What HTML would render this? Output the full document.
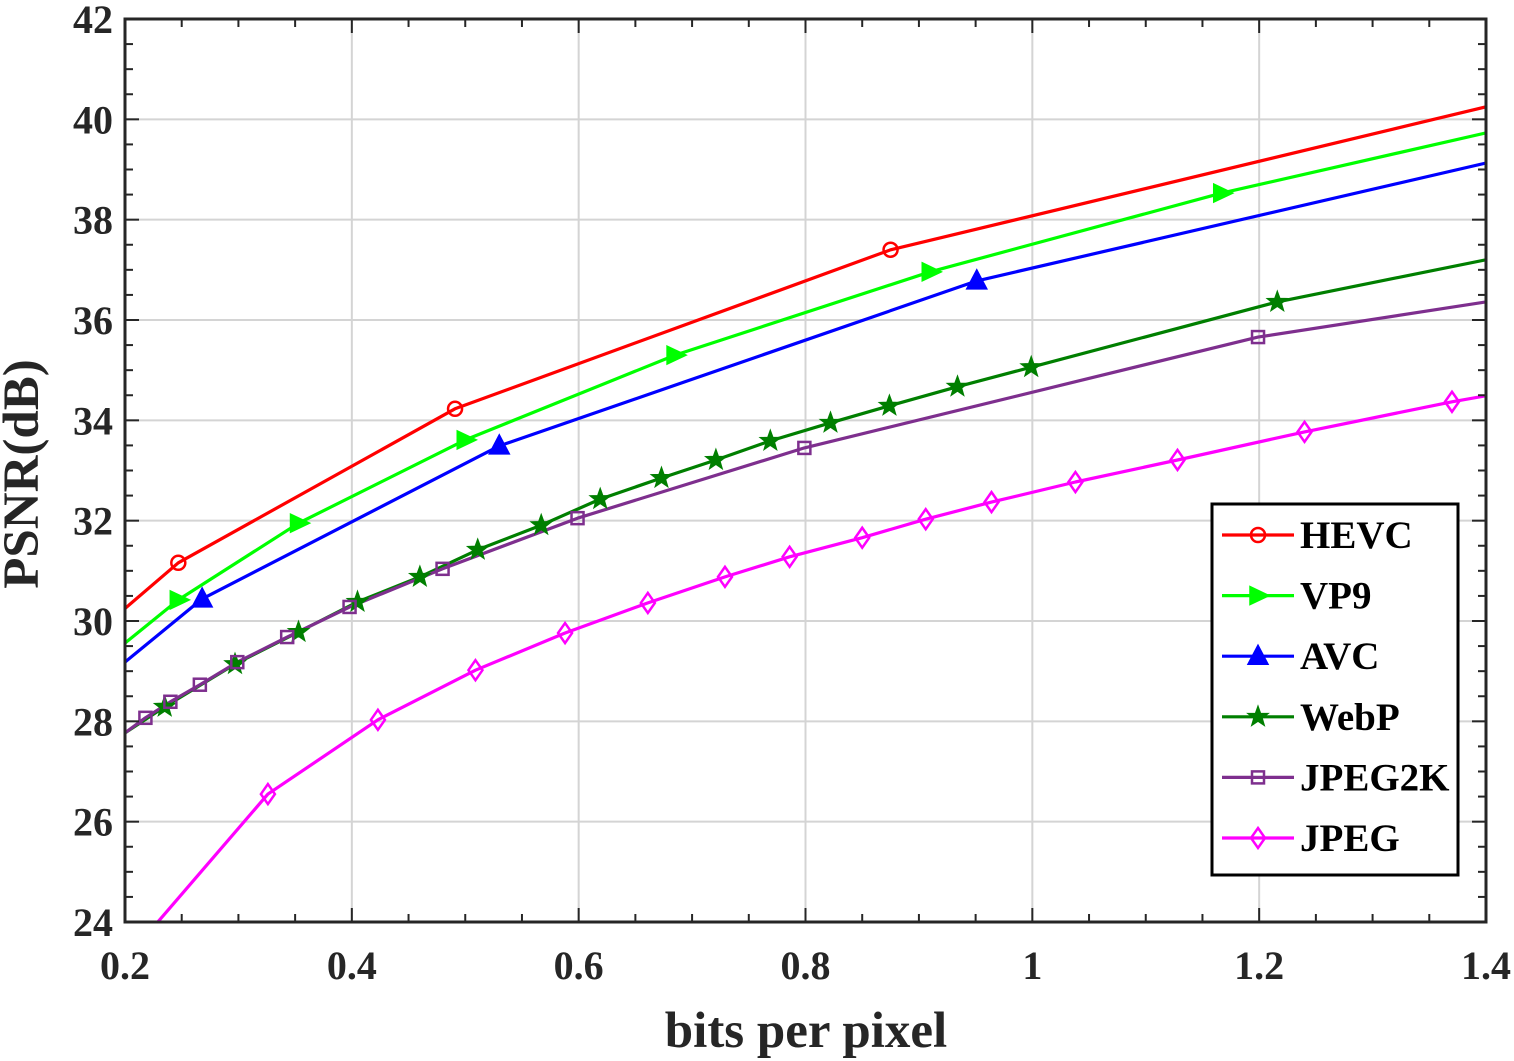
<!DOCTYPE html>
<html><head><meta charset="utf-8">
<style>
html,body{margin:0;padding:0;background:#fff;}
svg{display:block;font-family:"Liberation Serif",serif;font-weight:bold;}
</style></head>
<body>
<svg id="chart" width="1514" height="1061" viewBox="0 0 1514 1061" xmlns="http://www.w3.org/2000/svg">
<defs><clipPath id="clip"><rect x="125" y="19" width="1361" height="903"/></clipPath></defs>
<g id="grid"></g>
<g id="series" clip-path="url(#clip)"></g>
<g id="marks"></g>
<g id="axes"></g>
<g id="legend"></g>
</svg>
<script>
const xTicks=[0.2,0.4,0.6,0.8,1,1.2,1.4];
const xTickLabels=["0.2","0.4","0.6","0.8","1","1.2","1.4"];
const yTicks=[24,26,28,30,32,34,36,38,40,42];
const seriesNames=["HEVC","VP9","AVC","WebP","JPEG2K","JPEG"];
const seriesColors=["#ff0000","#00ff00","#0000ff","#007f00","#7e2f8e","#ff00ff"];
const seriesMarkers=["circle","tri-right","tri-up","star","square","diamond"];
const hevcX=[0.2,0.247,0.491,0.875,1.4];
const hevcY=[30.25,31.16,34.23,37.4,40.25];
const vp9X=[0.2,0.247,0.353,0.5,0.685,0.91,1.167,1.4];
const vp9Y=[29.56,30.42,31.95,33.61,35.30,36.96,38.53,39.73];
const avcX=[0.2,0.268,0.53,0.951,1.4];
const avcY=[29.18,30.44,33.49,36.78,39.13];
const webpX=[0.2,0.235,0.297,0.353,0.405,0.46,0.511,0.567,0.619,0.673,0.721,0.769,0.822,0.874,0.934,0.999,1.216,1.4];
const webpY=[27.77,28.29,29.14,29.78,30.38,30.88,31.42,31.91,32.43,32.85,33.21,33.59,33.95,34.29,34.67,35.06,36.36,37.2];
const j2kX=[0.2,0.218,0.240,0.266,0.299,0.343,0.398,0.48,0.599,0.799,1.199,1.4];
const j2kY=[27.77,28.07,28.39,28.73,29.18,29.68,30.28,31.04,32.05,33.45,35.66,36.36];
const jpegX=[0.2,0.326,0.423,0.509,0.588,0.661,0.729,0.786,0.85,0.906,0.964,1.038,1.128,1.24,1.37,1.4];
const jpegY=[23.24,26.55,28.03,29.02,29.76,30.36,30.88,31.28,31.66,32.03,32.37,32.77,33.21,33.77,34.37,34.49];
const allX=[hevcX,vp9X,avcX,webpX,j2kX,jpegX];
const allY=[hevcY,vp9Y,avcY,webpY,j2kY,jpegY];

const L=125,R=1486,T=19,B=922;
const xs=v=>L+(v-0.2)/1.2*(R-L);
const ys=v=>B-(v-24)/18*(B-T);
const NS="http://www.w3.org/2000/svg";
function mk(tag,attrs,parent){const e=document.createElementNS(NS,tag);for(const k in attrs)e.setAttribute(k,attrs[k]);parent.appendChild(e);return e;}
const grid=document.getElementById('grid'),axes=document.getElementById('axes'),ser=document.getElementById('series'),marks=document.getElementById('marks'),leg=document.getElementById('legend');

xTicks.forEach((t,i)=>{const x=xs(t);
 const g=mk('line',{x1:x,x2:x,y1:T,y2:B,stroke:'#d4d4d4','stroke-width':2},grid);
 
 
 const tx=mk('text',{x:x,y:979,'text-anchor':'middle','font-size':40,fill:'#262626'},axes);tx.textContent=xTickLabels[i];
 
 
});
yTicks.forEach(t=>{const y=ys(t);
 const g=mk('line',{x1:L,x2:R,y1:y,y2:y,stroke:'#d4d4d4','stroke-width':2},grid);
 
 
 const tx=mk('text',{x:113,y:y+14,'text-anchor':'end','font-size':40,fill:'#262626'},axes);tx.textContent=String(t);
 
 
});
for(let v=0.2;v<=1.4001;v+=0.05){const x=xs(v);const len=Math.abs((v*10)%2)<0.01||Math.abs((v*10)%2-2)<0.01?14:8;
 mk('line',{x1:x,x2:x,y1:B,y2:B-len,stroke:'#262626','stroke-width':2},axes);
 mk('line',{x1:x,x2:x,y1:T,y2:T+len,stroke:'#262626','stroke-width':2},axes);}
for(let v=24;v<=42;v+=0.5){const y=ys(v);const len=(v%2===0)?14:8;
 mk('line',{x1:L,x2:L+len,y1:y,y2:y,stroke:'#262626','stroke-width':2},axes);
 mk('line',{x1:R,x2:R-len,y1:y,y2:y,stroke:'#262626','stroke-width':2},axes);}
const frame=mk('rect',{x:L,y:T,width:R-L,height:B-T,fill:'none',stroke:'#262626','stroke-width':3},axes);


const xt=mk('text',{x:806,y:1047,'text-anchor':'middle','font-size':51,fill:'#262626'},axes);xt.textContent='bits per pixel';


const yt=mk('text',{x:0,y:0,'text-anchor':'middle','font-size':51,fill:'#262626',transform:'translate(38,474) rotate(-90)'},axes);yt.textContent='PSNR(dB)';



function marker(type,x,y,color,parent){
 let e;
 if(type==='circle')e=mk('circle',{cx:x,cy:y,r:7,fill:'none',stroke:color,'stroke-width':2.5},parent);
 else if(type==='tri-right')e=mk('polygon',{points:`${x-8},${y-9} ${x+11},${y} ${x-8},${y+9}`,fill:color,stroke:color,'stroke-width':1.5},parent);
 else if(type==='tri-up')e=mk('polygon',{points:`${x-10},${y+8} ${x},${y-11} ${x+10},${y+8}`,fill:color,stroke:color,'stroke-width':1.5},parent);
 else if(type==='square')e=mk('rect',{x:x-6,y:y-6,width:12,height:12,fill:'none',stroke:color,'stroke-width':2.5},parent);
 else if(type==='diamond')e=mk('polygon',{points:`${x},${y-10} ${x+7},${y} ${x},${y+10} ${x-7},${y}`,fill:'none',stroke:color,'stroke-width':2.5},parent);
 else{let p=[];for(let i=0;i<10;i++){const r=i%2?4.5:11;const a=-Math.PI/2+i*Math.PI/5;p.push((x+r*Math.cos(a)).toFixed(1)+','+(y+r*Math.sin(a)).toFixed(1));}
  e=mk('polygon',{points:p.join(' '),fill:color,stroke:color,'stroke-width':1},parent);}
 return e;
}
seriesNames.forEach((n,i)=>{
 const X=allX[i],Y=allY[i];
 const pts=X.map((v,k)=>xs(v).toFixed(1)+','+ys(Y[k]).toFixed(1)).join(' ');
 const pl=mk('polyline',{points:pts,fill:'none',stroke:seriesColors[i],'stroke-width':3.2,'stroke-linejoin':'round'},ser);
 
 
 for(let k=1;k<X.length-1;k++){
  const m=marker(seriesMarkers[i],xs(X[k]),ys(Y[k]),seriesColors[i],marks);
  
  
 }
});
const lb=mk('rect',{x:1212,y:504,width:246,height:371,fill:'#fff',stroke:'#000','stroke-width':3},leg);


seriesNames.forEach((n,i)=>{
 const y=535+i*60.6;
 const g=mk('g',{},leg);
 
 
 mk('line',{x1:1222,x2:1294,y1:y,y2:y,stroke:seriesColors[i],'stroke-width':3.2},g);
 marker(seriesMarkers[i],1258,y,seriesColors[i],g);
 const t=mk('text',{x:1300,y:y+13,'font-size':39,fill:'#000'},g);t.textContent=n;
});
</script>
</body></html>
